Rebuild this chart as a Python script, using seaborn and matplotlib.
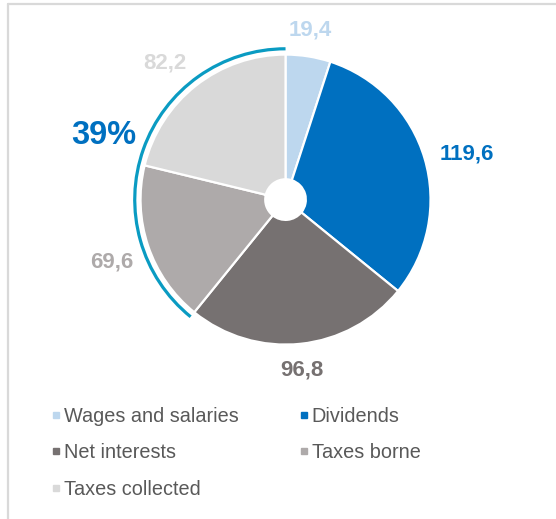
import matplotlib
matplotlib.use('Agg')

import numpy
import seaborn as sns
import matplotlib.pyplot as plt
from matplotlib.patches import Arc
from matplotlib.lines import Line2D

categories = ['Wages and salaries', 'Dividends', 'Net interests', 'Taxes borne', 'Taxes collected']
values = [19.4, 119.6, 96.8, 69.6, 82.2]
value_labels = ['19,4', '119,6', '96,8', '69,6', '82,2']
colors = ['#bdd7ee', '#0070c0', '#767171', '#aeaaaa', '#d9d9d9']
label_colors = ['#bdd7ee', '#0070c0', '#767171', '#aeaaaa', '#d9d9d9']
tax_share_label = '39%'
tax_items = ['Taxes borne', 'Taxes collected']

sns.set_theme(style="white")
plt.rcParams['font.family'] = ['Liberation Sans', 'DejaVu Sans']

fig = plt.figure(figsize=(5.56, 5.19), dpi=100)
ax = fig.add_axes([0.1615, 0.2383, 0.7041, 0.7543])

wedges, _ = ax.pie(values, colors=colors, startangle=90, counterclock=False,
                   radius=1.0, wedgeprops=dict(width=0.86, edgecolor='white', linewidth=1.6))
ax.set_aspect('equal')
ax.set_xlim(-1.35, 1.35)
ax.set_ylim(-1.35, 1.35)
ax.axis('off')

# value labels just outside each wedge
for w, txt, c in zip(wedges, value_labels, label_colors):
    mid = numpy.deg2rad((w.theta1 + w.theta2) / 2)
    cx, cy = numpy.cos(mid), numpy.sin(mid)
    ha = 'left' if cx > 0.3 else ('right' if cx < -0.3 else 'center')
    va = 'bottom' if cy > 0.3 else ('top' if cy < -0.3 else 'center')
    ax.text(1.11 * cx, 1.11 * cy, txt, ha=ha, va=va, color=c,
            fontsize=16, fontweight='bold')

# arc around the tax wedges
tax_wedges = [wedges[categories.index(t)] for t in tax_items]
t1 = min(w.theta1 for w in tax_wedges)
t2 = max(w.theta2 for w in tax_wedges)
ax.add_patch(Arc((0, 0), 2.08, 2.08, theta1=t1, theta2=t2, color='#0a9bc2', linewidth=2.3))
mid = numpy.deg2rad((t1 + t2) / 2)
ax.text(1.33 * numpy.cos(mid), 1.33 * numpy.sin(mid), tax_share_label,
        ha='center', va='center', color='#0070c0', fontsize=23.5, fontweight='bold')

# legend, filled row by row
order = [0, 2, 4, 1, 3]
handles = [Line2D([], [], marker='s', linestyle='', color=colors[i], markersize=5) for i in order]
labels = [categories[i] for i in order]
fig.legend(handles, labels, ncol=2, loc='upper left', bbox_to_anchor=(0.075, 0.232),
           frameon=False, fontsize=14.3, handlelength=0.6, handletextpad=0.1,
           columnspacing=3.0, labelspacing=0.9, labelcolor='#595959', borderaxespad=0)

# light frame at top and left
fig.add_artist(Line2D([0.0144, 1.0], [0.992, 0.992], transform=fig.transFigure, color='#d9d9d9', linewidth=1.6))
fig.add_artist(Line2D([0.0144, 0.0144], [0.0, 0.992], transform=fig.transFigure, color='#d9d9d9', linewidth=1.6))

plt.savefig('out.png', dpi=100)
plt.close('all')
